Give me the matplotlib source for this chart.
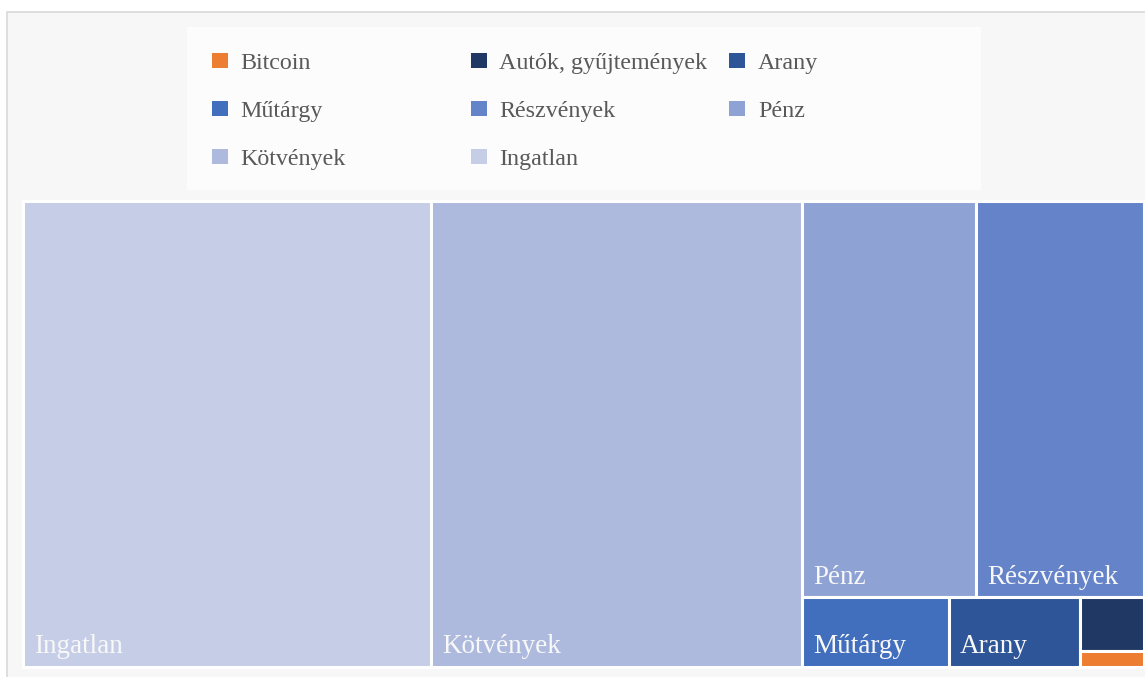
import matplotlib
matplotlib.use("Agg")
import matplotlib.pyplot as plt
from matplotlib.patches import Rectangle

plt.rcParams['font.family'] = ['Liberation Serif', 'DejaVu Serif']

# ---- data (largest first, as the treemap lays them out) ----
names = ["Ingatlan", "Kötvények", "Pénz", "Részvények", "Műtárgy", "Arany",
         "Autók, gyűjtemények", "Bitcoin"]
values = [326.5, 297.0, 118.5, 114.0, 17.5, 15.6, 5.9, 1.8]
colors = ["#c5cde7", "#adbade", "#8fa2d4", "#6483c9", "#416ebd", "#2e5597",
          "#203864", "#ed7d31"]

# legend lists the series from smallest to largest
legend_order = names[::-1]

FIG_W, FIG_H = 1145, 677


def squarify(vals, x, y, w, h, ratio=(1 + 5 ** 0.5) / 2):
    # squarified treemap, rows are laid along the shorter side
    total = sum(vals)
    areas = [v * w * h / total for v in vals]
    out = []
    i = 0
    while i < len(areas):
        side = min(w, h)

        def worst(r):
            s = sum(r)
            f = side * side * ratio
            return max(f * max(r) / s ** 2, s ** 2 / (f * min(r)))

        row = [areas[i]]
        j = i + 1
        while j < len(areas) and worst(row + [areas[j]]) <= worst(row):
            row.append(areas[j])
            j += 1
        thick = sum(row) / side
        if w >= h:
            yy = y
            for a in row:
                out.append((x, yy, thick, a / thick))
                yy += a / thick
            x += thick
            w -= thick
        else:
            xx = x
            for a in row:
                out.append((xx, y, a / thick, thick))
                xx += a / thick
            y += thick
            h -= thick
        i = j
    return out


fig = plt.figure(figsize=(FIG_W / 100, FIG_H / 100), dpi=100, facecolor="white")

# ---- background panel + legend box (pixel coordinates) ----
deco = fig.add_axes([0, 0, 1, 1], zorder=0)
deco.set_xlim(0, FIG_W)
deco.set_ylim(FIG_H, 0)
deco.axis("off")
deco.add_patch(Rectangle((7, 12), FIG_W, FIG_H, facecolor="#f7f7f7",
                         edgecolor="#d9d9d9", linewidth=1.2))
deco.add_patch(Rectangle((187, 27), 794, 163, facecolor="#fcfcfc",
                         edgecolor="none"))

# legend, filled row by row, 3 columns
for k, name in enumerate(legend_order):
    col, row = k % 3, k // 3
    x0 = 212 + col * 258.7
    yc = 60.8 + row * 47.7
    c = colors[names.index(name)]
    deco.add_patch(Rectangle((x0, yc - 7.5), 16, 15, facecolor=c, edgecolor="none"))
    deco.text(x0 + 28.5, yc + 8.3, name, fontsize=17.3, color="#595959",
              va="baseline", ha="left")

# ---- treemap ----
left, right, top, bottom = 23, 1144, 201, 667
W, H = right - left, bottom - top
ax = fig.add_axes([left / FIG_W, 1 - bottom / FIG_H, W / FIG_W, H / FIG_H], zorder=1)
ax.set_xlim(0, W)
ax.set_ylim(H, 0)
ax.axis("off")

rects = squarify(values, 0, 0, W, H)
labels = []
for (rx, ry, rw, rh), name, c in zip(rects, names, colors):
    ax.add_patch(Rectangle((rx, ry), rw, rh, facecolor=c, edgecolor="white",
                           linewidth=2.2, clip_on=False))
    t = ax.annotate(name, xy=(rx, ry + rh), xytext=(8, 10), textcoords="offset points",
                    fontsize=19.5, color="#f8f8f8", ha="left", va="baseline")
    labels.append((t, rx, ry, rw, rh))

# hide labels that do not fit inside their rectangle
renderer = fig.canvas.get_renderer()
for t, rx, ry, rw, rh in labels:
    bb = t.get_window_extent(renderer)
    x1, y_top = ax.transData.transform((rx + rw, ry))
    if bb.x1 > x1 - 4 or bb.y1 > y_top - 2:
        t.remove()

fig.savefig("out.png", dpi=100, facecolor=fig.get_facecolor())
